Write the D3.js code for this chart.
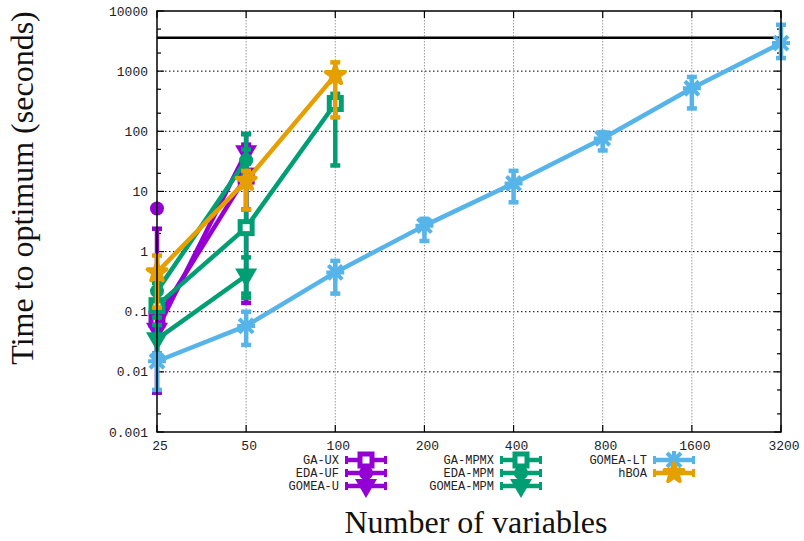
<!DOCTYPE html>
<html>
<head>
<meta charset="utf-8">
<script src="https://cdn.jsdelivr.net/npm/d3@7"></script>
<style>
  body { margin: 0; background: #fff; }
  .tick-label { font-family: "Liberation Mono", "DejaVu Sans Mono", monospace; font-size: 13px; fill: #222; }
  .legend-label { font-family: "Liberation Mono", "DejaVu Sans Mono", monospace; font-size: 12px; fill: #222; }
  .axis-title { font-family: "Liberation Serif", "DejaVu Serif", serif; fill: #111; }
</style>
</head>
<body>
<script>
// problem sizes (x) and decade ticks (y)
var sizes = [25, 50, 100, 200, 400, 800, 1600, 3200];
var yTicks = [0.001, 0.01, 0.1, 1, 10, 100, 1000, 10000];
var yTickLabels = ["0.001", "0.01", "0.1", "1", "10", "100", "1000", "10000"];
var timeLimit = 3600;

// each series: n, mean time, lower and upper error
var gaUX      = { n: [25, 50],      y: [0.075, 18],   lo: [0.02, 5],    hi: [2.4, 60] };
var edaUF     = { n: [25],          y: [5.2],         lo: [5.2],        hi: [5.2] };
var gomeaU    = { n: [25, 50],      y: [0.05, 45],    lo: [0.0045, 0.14], hi: [0.15, 90] };
var gaMPMX    = { n: [25, 50, 100], y: [0.126, 2.5, 290], lo: [0.08, 0.17, 27], hi: [0.2, 90, 420] };
var edaMPM    = { n: [25, 50],      y: [0.22, 33],    lo: [0.15, 20],   hi: [0.3, 50] };
var gomeaMPM  = { n: [25, 50],      y: [0.035, 0.4],  lo: [0.02, 0.2],  hi: [0.06, 0.8] };
var gomeaLT   = { n: sizes,
                  y:  [0.015, 0.058, 0.45, 2.7, 13.6, 76, 520, 2930],
                  lo: [0.005, 0.028, 0.2, 1.5, 6.6, 48, 240, 1650],
                  hi: [0.02, 0.1, 0.7, 3.5, 22, 96, 800, 5900] };
var hBOA      = { n: [25, 50, 100], y: [0.45, 15, 860], lo: [0.117, 5, 170], hi: [0.86, 22, 1400] };

var purple = "#9400d3", green = "#009e73", blue = "#56b4e9", orange = "#e69f00";

var series = [
  { name: "GA-UX",     d: gaUX,     color: purple, marker: "square" },
  { name: "EDA-UF",    d: edaUF,    color: purple, marker: "circle" },
  { name: "GOMEA-U",   d: gomeaU,   color: purple, marker: "tri" },
  { name: "GA-MPMX",   d: gaMPMX,   color: green,  marker: "square" },
  { name: "EDA-MPM",   d: edaMPM,   color: green,  marker: "circle" },
  { name: "GOMEA-MPM", d: gomeaMPM, color: green,  marker: "tri" },
  { name: "GOMEA-LT",  d: gomeaLT,  color: blue,   marker: "aster" },
  { name: "hBOA",      d: hBOA,     color: orange, marker: "star" }
];

var W = 804, H = 541;
var margin = {top: 11, right: 23, bottom: 109, left: 157};
var width = W - margin.left - margin.right,
    height = H - margin.top - margin.bottom;

var x = d3.scaleLog().base(2).domain([25, 3200]).range([0, width]);
var y = d3.scaleLog().domain([0.001, 10000]).range([height, 0]);

var svg = d3.select("body").append("svg")
  .attr("width", W).attr("height", H);

var g = svg.append("g")
  .attr("transform", "translate(" + margin.left + "," + margin.top + ")");

// grid
g.selectAll(".hgrid").data(yTicks.slice(1, -1)).enter().append("line")
  .attr("x1", 0).attr("x2", width)
  .attr("y1", function(d) { return y(d); }).attr("y2", function(d) { return y(d); })
  .attr("stroke", "#000").attr("stroke-width", 1).attr("stroke-dasharray", "1.5,2.5");
g.selectAll(".vgrid").data(sizes.slice(1, -1)).enter().append("line")
  .attr("y1", 0).attr("y2", height)
  .attr("x1", function(d) { return x(d); }).attr("x2", function(d) { return x(d); })
  .attr("stroke", "#999").attr("stroke-width", 1).attr("stroke-dasharray", "1.5,1.5");

// y ticks, major and minor (2x, 5x), on both sides
var minor = [];
yTicks.slice(0, -1).forEach(function(t) { minor.push(t * 2, t * 5); });
[0, width].forEach(function(xx, i) {
  var dir = i == 0 ? 1 : -1;
  g.selectAll(".ymaj" + i).data(yTicks).enter().append("line")
    .attr("x1", xx).attr("x2", xx + dir * 7)
    .attr("y1", function(d) { return y(d); }).attr("y2", function(d) { return y(d); })
    .attr("stroke", "#000").attr("stroke-width", 1.2);
  g.selectAll(".ymin" + i).data(minor).enter().append("line")
    .attr("x1", xx).attr("x2", xx + dir * 4)
    .attr("y1", function(d) { return y(d); }).attr("y2", function(d) { return y(d); })
    .attr("stroke", "#000").attr("stroke-width", 1.2);
});
[0, height].forEach(function(yy, i) {
  var dir = i == 0 ? 1 : -1;
  g.selectAll(".xt" + i).data(sizes).enter().append("line")
    .attr("y1", yy).attr("y2", yy + dir * 7)
    .attr("x1", function(d) { return x(d); }).attr("x2", function(d) { return x(d); })
    .attr("stroke", "#000").attr("stroke-width", 1.2);
});

// tick labels
g.selectAll(".ylab").data(yTicks).enter().append("text")
  .attr("class", "tick-label")
  .attr("x", -9).attr("y", function(d) { return y(d); })
  .attr("dy", "0.35em").attr("text-anchor", "end")
  .text(function(d, i) { return yTickLabels[i]; });
g.selectAll(".xlab").data(sizes).enter().append("text")
  .attr("class", "tick-label")
  .attr("x", function(d) { return x(d) + 3; }).attr("y", height + 18)
  .attr("text-anchor", "middle")
  .text(function(d) { return d; });

// time limit line
g.append("line")
  .attr("x1", 0).attr("x2", width)
  .attr("y1", y(timeLimit)).attr("y2", y(timeLimit))
  .attr("stroke", "#000").attr("stroke-width", 2.5);

function marker(sel, type, color) {
  if (type == "square") {
    sel.append("rect").attr("x", -6).attr("y", -6).attr("width", 12).attr("height", 12)
      .attr("fill", "#fff").attr("stroke", color).attr("stroke-width", 5);
  } else if (type == "circle") {
    sel.append("circle").attr("r", 7).attr("fill", color);
  } else if (type == "tri") {
    sel.append("path").attr("d", "M-11,-7L11,-7L0,12Z").attr("fill", color);
  } else if (type == "aster") {
    sel.append("path").attr("d", "M-9,0L9,0M0,-9L0,9M-7,-7L7,7M-7,7L7,-7")
      .attr("stroke", color).attr("stroke-width", 4).attr("fill", "none");
  } else if (type == "star") {
    sel.append("path").attr("d", d3.symbol().type(d3.symbolStar).size(110)())
      .attr("fill", color).attr("stroke", color).attr("stroke-width", 4)
      .attr("stroke-linejoin", "round");
  }
}

var line = d3.line()
  .x(function(p) { return x(p.n); })
  .y(function(p) { return y(p.y); });

series.forEach(function(s) {
  var pts = s.d.n.map(function(n, i) {
    return { n: n, y: s.d.y[i], lo: s.d.lo[i], hi: s.d.hi[i] };
  });
  var sg = g.append("g");
  // error bars
  pts.filter(function(p) { return p.lo != p.hi; }).forEach(function(p) {
    var cx = x(p.n);
    sg.append("line").attr("x1", cx).attr("x2", cx)
      .attr("y1", y(p.lo)).attr("y2", y(p.hi))
      .attr("stroke", s.color).attr("stroke-width", 4.5);
    [p.lo, p.hi].forEach(function(v) {
      sg.append("line").attr("x1", cx - 5).attr("x2", cx + 5)
        .attr("y1", y(v)).attr("y2", y(v))
        .attr("stroke", s.color).attr("stroke-width", 4.5);
    });
  });
  sg.append("path").datum(pts).attr("d", line)
    .attr("fill", "none").attr("stroke", s.color).attr("stroke-width", 4.5)
    .attr("stroke-linejoin", "round");
  pts.forEach(function(p) {
    var m = sg.append("g").attr("transform", "translate(" + x(p.n) + "," + y(p.y) + ")");
    marker(m, s.marker, s.color);
  });
});

// border
g.append("rect").attr("width", width).attr("height", height)
  .attr("fill", "none").attr("stroke", "#000").attr("stroke-width", 1.5);

// legend
var colX = [345, 500, 653], rowY = [460, 473, 486];
var legendItems = [[0, 0], [0, 1], [0, 2], [1, 0], [1, 1], [1, 2], [2, 0], [2, 1]];
series.forEach(function(s, i) {
  var lx = colX[legendItems[i][0]], ly = rowY[legendItems[i][1]];
  var lg = svg.append("g");
  lg.append("text").attr("class", "legend-label")
    .attr("x", lx - 6).attr("y", ly).attr("dy", "0.35em").attr("text-anchor", "end")
    .text(s.name);
  lg.append("line").attr("x1", lx).attr("x2", lx + 42).attr("y1", ly).attr("y2", ly)
    .attr("stroke", s.color).attr("stroke-width", 4.5);
  [lx + 1.5, lx + 40.5].forEach(function(cx) {
    lg.append("line").attr("x1", cx).attr("x2", cx).attr("y1", ly - 4).attr("y2", ly + 4)
      .attr("stroke", s.color).attr("stroke-width", 3);
  });
  var m = lg.append("g").attr("transform", "translate(" + (lx + 21) + "," + ly + ")");
  marker(m, s.marker, s.color);
});

// axis titles
svg.append("text").attr("class", "axis-title")
  .attr("x", 476).attr("y", 533).attr("text-anchor", "middle")
  .style("font-size", "32px")
  .text("Number of variables");
svg.append("text").attr("class", "axis-title")
  .attr("transform", "translate(33,188) rotate(-90)")
  .attr("text-anchor", "middle")
  .style("font-size", "32px")
  .text("Time to optimum (seconds)");
</script>
</body>
</html>
